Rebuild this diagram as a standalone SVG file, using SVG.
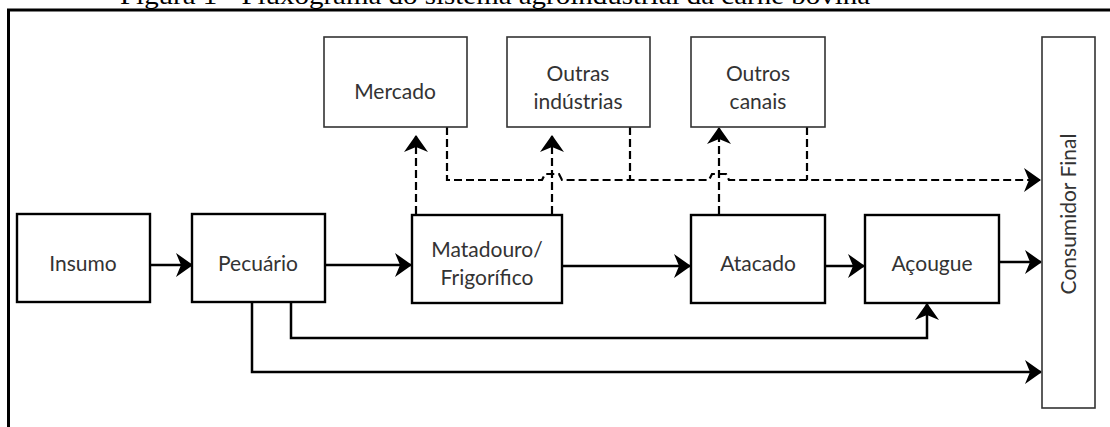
<svg xmlns="http://www.w3.org/2000/svg" width="1110" height="427" viewBox="0 0 1110 427">
<style>
.box{fill:#fff;stroke:#000;stroke-width:2.4}
.tbox{fill:#fff;stroke:#333;stroke-width:1.6}
.lbl{font-family:Lato,"Open Sans",sans-serif;font-size:21px;fill:#333;text-anchor:middle}
.solid{fill:none;stroke:#000;stroke-width:2.5}
.dash{fill:none;stroke:#000;stroke-width:2.2;stroke-dasharray:8 4}
.title{font-family:"Liberation Serif",serif;font-size:26px;fill:#000}
</style>
<defs>
<marker id="ah" markerUnits="userSpaceOnUse" markerWidth="20" markerHeight="26" refX="17" refY="13" orient="auto" viewBox="0 0 20 26">
<path d="M1,1 L18,13 L1,25 L6,13 Z" fill="#000"/>
</marker>
</defs>
<rect x="0" y="0" width="1110" height="427" fill="#fff"/>
<text class="title" x="120" y="4" textLength="750" lengthAdjust="spacingAndGlyphs">Figura 1 - Fluxograma do sistema agroindustrial da carne bovina</text>
<path d="M8.5,427 L8.5,10 L1110,10" fill="none" stroke="#000" stroke-width="3"/>

<g id="connectors">
<line class="solid" x1="150" y1="265" x2="192" y2="265" marker-end="url(#ah)"/>
<line class="solid" x1="325" y1="265" x2="411" y2="265" marker-end="url(#ah)"/>
<line class="solid" x1="562" y1="266" x2="690" y2="266" marker-end="url(#ah)"/>
<line class="solid" x1="825" y1="266" x2="864" y2="266" marker-end="url(#ah)"/>
<line class="solid" x1="999" y1="262" x2="1041" y2="262" marker-end="url(#ah)"/>
<path class="solid" d="M291,302 L291,338 L927,338 L927,304" marker-end="url(#ah)"/>
<path class="solid" d="M252,302 L252,372 L1041,372" marker-end="url(#ah)"/>
<line class="dash" x1="416" y1="214" x2="416" y2="136" marker-end="url(#ah)"/>
<line class="dash" x1="552" y1="214" x2="552" y2="136" marker-end="url(#ah)"/>
<line class="dash" x1="719" y1="214" x2="719" y2="128" marker-end="url(#ah)"/>
<path class="dash" d="M447,127 L447,180 L542,180 L545,174 L559,174 L562,180 L709,180 L712,174 L726,174 L729,180 L1040,180" marker-end="url(#ah)"/>
<line class="dash" x1="630" y1="127" x2="630" y2="180"/>
<line class="dash" x1="807" y1="127" x2="807" y2="180"/>
</g>

<g id="insumo"><rect class="box" x="17" y="214" width="133" height="88"/><text class="lbl" x="83" y="271">Insumo</text></g>
<g id="pecuario"><rect class="box" x="192" y="214" width="133" height="88"/><text class="lbl" x="258" y="271">Pecuário</text></g>
<g id="matadouro"><rect class="box" x="412" y="215" width="150" height="88"/><text class="lbl" x="487" y="257">Matadouro/</text><text class="lbl" x="487" y="285">Frigorífico</text></g>
<g id="atacado"><rect class="box" x="691" y="215" width="134" height="88"/><text class="lbl" x="758" y="271">Atacado</text></g>
<g id="acougue"><rect class="box" x="865" y="215" width="134" height="88"/><text class="lbl" x="932" y="271">Açougue</text></g>
<g id="mercado"><rect class="tbox" x="324" y="37" width="143" height="90"/><text class="lbl" x="395" y="99">Mercado</text></g>
<g id="outras-industrias"><rect class="tbox" x="507" y="37" width="143" height="90"/><text class="lbl" x="578" y="81">Outras</text><text class="lbl" x="578" y="109">indústrias</text></g>
<g id="outros-canais"><rect class="tbox" x="691" y="37" width="134" height="90"/><text class="lbl" x="758" y="81">Outros</text><text class="lbl" x="758" y="109">canais</text></g>
<g id="consumidor-final"><rect class="tbox" x="1042" y="37" width="53" height="371"/><text class="lbl" transform="translate(1076,214) rotate(-90)" x="0" y="0">Consumidor Final</text></g>
</svg>
